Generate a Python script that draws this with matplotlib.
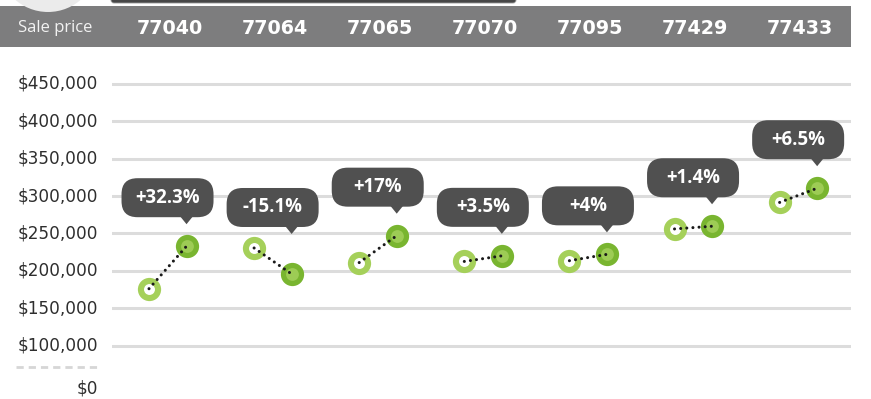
import matplotlib
matplotlib.use("Agg")
import matplotlib.pyplot as plt
from matplotlib.patches import Rectangle, FancyBboxPatch, Polygon, Circle
from matplotlib.transforms import Affine2D, ScaledTranslation, blended_transform_factory

# ZIP codes with sale prices for the earlier and later period
zip_codes = ["77040", "77064", "77065", "77070", "77095", "77429", "77433"]
price_before = [176000, 230500, 211000, 212500, 213500, 256000, 291500]
price_after = [232900, 195700, 247000, 220000, 222000, 259600, 310500]
change_labels = ["+32.3%", "-15.1%", "+17%", "+3.5%", "+4%", "+1.4%", "+6.5%"]
tick_values = [100000, 150000, 200000, 250000, 300000, 350000, 400000, 450000]
tick_labels = ["$100,000", "$150,000", "$200,000", "$250,000",
               "$300,000", "$350,000", "$400,000", "$450,000"]
zero_label = "$0"

W, H = 871, 399
fig = plt.figure(figsize=(W / 100, H / 100), dpi=100)
fig.patch.set_facecolor("white")

def fx(px):
    return px / W

def fy(py):
    return 1 - py / H

# plotting area below the header band
ax = fig.add_axes([fx(112), 0, fx(851) - fx(112), fy(47)])
ax.set_xlim(-0.547, 6.484)
ax.set_ylim(28400, 499500)
ax.axis("off")

light_green = "#a5d05a"
dark_green = "#79b530"
dark_inner = "#9dcc55"
bubble_col = "#505050"
grid_col = "#dcdcdc"
label_x = -0.547 - 14 / 105.1

# horizontal grid lines and y labels
for v, lab in zip(tick_values, tick_labels):
    ax.axhline(v, color=grid_col, lw=2.2, zorder=0)
    ax.text(label_x, v, lab, ha="right", va="center",
            fontsize=12.2, color="#2e2e2e", family="DejaVu Sans")

# axis break marker and zero label
ax.plot([-0.547 - 96 / 105.1, label_x], [71200, 71200],
        color="#d6d6d6", lw=2.0, linestyle=(0, (2.6, 1.8)), clip_on=False)
ax.text(label_x, 43100, zero_label, ha="right", va="center",
        fontsize=12.2, color="#2e2e2e", family="DejaVu Sans", clip_on=False)

x_before_off = -0.195
x_after_off = 0.162

for i in range(len(zip_codes)):
    xb = i + x_before_off
    xa = i + x_after_off
    vb = price_before[i]
    va = price_after[i]
    # earlier price: ring
    ax.scatter([xb], [vb], s=280, color=light_green, zorder=3, linewidths=0)
    ax.scatter([xb], [vb], s=62, color="white", zorder=4, linewidths=0)
    # later price: filled disc with lighter centre
    ax.scatter([xa], [va], s=280, color=dark_green, zorder=3, linewidths=0)
    ax.scatter([xa], [va], s=85, color=dark_inner, zorder=4, linewidths=0)
    # dotted connector
    ax.plot([xb, xa], [vb, va], color="#1a1a1a", lw=2.2,
            linestyle=(0, (0.01, 2.0)), dash_capstyle="round", zorder=5)

    # callout bubble anchored above the higher point
    if va >= vb:
        anchor_v, lift = va, 22
    else:
        anchor_v, lift = vb, 14
    tr = Affine2D().translate(0, lift) + ScaledTranslation(xa, anchor_v, ax.transData)
    box = FancyBboxPatch((-65, 7), 92, 39,
                         boxstyle="round,pad=0,rounding_size=16",
                         facecolor=bubble_col, edgecolor="none",
                         transform=tr, zorder=7, clip_on=False)
    ax.add_patch(box)
    tip = Polygon([(-6.5, 8), (6.5, 8), (0, 0)], closed=True,
                  facecolor=bubble_col, edgecolor="none",
                  transform=tr, zorder=7, clip_on=False)
    ax.add_patch(tip)
    ax.text(-19, 26.5, change_labels[i], transform=tr, ha="center",
            va="center", color="white", fontsize=13.4, fontweight="bold",
            family="Open Sans", zorder=8, clip_on=False)

# header band with ZIP code columns
fig.patches.append(Rectangle((0, fy(47)), fx(851), fy(6) - fy(47),
                             transform=fig.transFigure, facecolor="#7d7d7e",
                             edgecolor="none", zorder=-2))
# decorative shapes peeking in at the top edge (inch units keep them round)
fig.patches.append(Circle((0.48, (H + 38) / 100), 0.50,
                          transform=fig.dpi_scale_trans,
                          facecolor="#ebebeb", edgecolor="none", zorder=-1))
fig.patches.append(FancyBboxPatch((1.11, (H - 3) / 100), 4.05, 0.10,
                                  boxstyle="round,pad=0,rounding_size=0.03",
                                  transform=fig.dpi_scale_trans,
                                  facecolor="#474747", edgecolor="#9a9a9a",
                                  linewidth=0.6, zorder=-1))

hdr = blended_transform_factory(ax.transData, fig.transFigure)
for i, z in enumerate(zip_codes):
    fig.text(i, fy(28.5), z, transform=hdr, ha="center", va="center",
             color="white", fontsize=13.8, fontweight="bold",
             family="DejaVu Sans", zorder=5)
fig.text(fx(18), fy(28.5), "Sale price", ha="left", va="center",
         color="#f2f2f2", fontsize=12, family="Open Sans", zorder=5)

fig.savefig("out.png", dpi=100)
